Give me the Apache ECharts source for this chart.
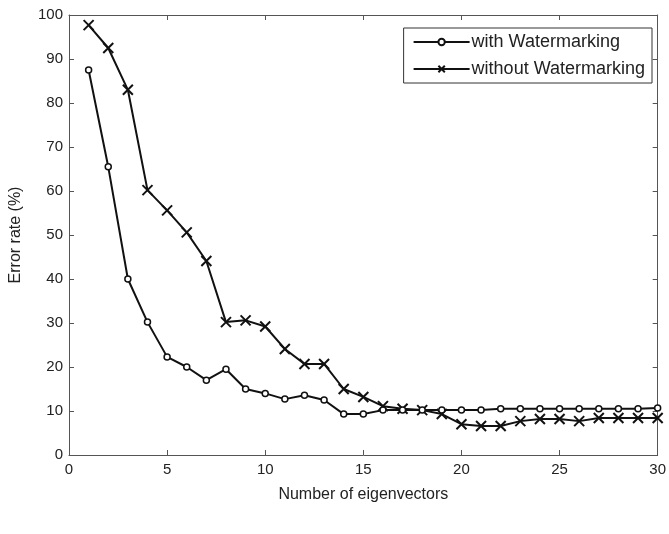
<!DOCTYPE html>
<html>
<head>
<meta charset="utf-8">
<script src="https://cdn.jsdelivr.net/npm/echarts@6/dist/echarts.min.js"></script>
<style>
  html, body { margin: 0; padding: 0; background: #fff; }
  #chart { width: 669px; height: 534px; }
</style>
</head>
<body>
<div id="chart"></div>
<script>
// Number of eigenvectors used
const eigenvectors = [1,2,3,4,5,6,7,8,9,10,11,12,13,14,15,16,17,18,19,20,21,22,23,24,25,26,27,28,29,30];

// Error rate (%) with watermarking
const withWatermarking = [87.5, 65.5, 40, 30.2, 22.3, 20, 17, 19.5, 15, 14, 12.7, 13.6, 12.5, 9.3, 9.3,
  10.2, 10.2, 10.2, 10.2, 10.2, 10.2, 10.5, 10.5, 10.5, 10.5, 10.5, 10.5, 10.5, 10.5, 10.7];

// Error rate (%) without watermarking
const withoutWatermarking = [97.7, 92.5, 83, 60.2, 55.6, 50.6, 44.1, 30.2, 30.6, 29.2, 24.1, 20.7, 20.7, 15, 13.2,
  11.1, 10.5, 10.2, 9.3, 7, 6.6, 6.6, 7.7, 8.2, 8.2, 7.7, 8.4, 8.4, 8.4, 8.4];

const seriesNames = ['with Watermarking', 'without Watermarking'];

const font = 'Liberation Sans, Arial, sans-serif';
const axisColor = '#555';
const textColor = '#222';

const pairs = (ys) => eigenvectors.map((x, i) => [x, ys[i]]);

const crossSymbol = 'path://M0,0L10,10M10,0L0,10';

const chart = echarts.init(document.getElementById('chart'), null, { renderer: 'canvas' });

const baseAxis = {
  axisLine: { show: true, onZero: false, lineStyle: { color: axisColor, width: 1 } },
  axisTick: { show: true, inside: true, length: 5, lineStyle: { color: axisColor } },
  splitLine: { show: false },
  axisLabel: { color: textColor, fontFamily: font, fontSize: 15 }
};

chart.setOption({
  animation: false,
  backgroundColor: '#fff',
  grid: { left: 69, right: 7, top: 15, bottom: 79, containLabel: false },
  legend: {
    data: seriesNames,
    orient: 'vertical',
    right: 17,
    top: 28,
    padding: [5, 7, 5, 9],
    itemGap: 9,
    itemWidth: 56,
    itemHeight: 8,
    borderColor: '#333',
    borderWidth: 1,
    backgroundColor: '#fff',
    textStyle: { color: textColor, fontFamily: font, fontSize: 18, padding: [0, 0, 0, -3] }
  },
  xAxis: [
    Object.assign({}, baseAxis, {
      type: 'value', min: 0, max: 30, interval: 5, position: 'bottom',
      name: 'Number of eigenvectors', nameLocation: 'middle', nameGap: 32,
      nameTextStyle: { color: textColor, fontFamily: font, fontSize: 16 },
      axisLabel: Object.assign({}, baseAxis.axisLabel, { margin: 7 })
    }),
    Object.assign({}, baseAxis, {
      type: 'value', min: 0, max: 30, interval: 5, position: 'top',
      axisLabel: { show: false }
    })
  ],
  yAxis: [
    Object.assign({}, baseAxis, {
      type: 'value', min: 0, max: 100, interval: 10, position: 'left',
      name: 'Error rate (%)', nameLocation: 'middle', nameGap: 45, nameRotate: 90,
      nameTextStyle: { color: textColor, fontFamily: font, fontSize: 16 },
      axisLabel: Object.assign({}, baseAxis.axisLabel, { margin: 6 })
    }),
    Object.assign({}, baseAxis, {
      type: 'value', min: 0, max: 100, interval: 10, position: 'right',
      axisLabel: { show: false }
    })
  ],
  series: [
    {
      name: seriesNames[0],
      type: 'line',
      data: pairs(withWatermarking),
      symbol: 'circle',
      symbolSize: 6,
      showAllSymbol: true,
      lineStyle: { color: '#111', width: 2 },
      itemStyle: { color: '#fff', borderColor: '#111', borderWidth: 1.5 },
      z: 3
    },
    {
      name: seriesNames[1],
      type: 'line',
      data: pairs(withoutWatermarking),
      symbol: crossSymbol,
      symbolSize: 10,
      showAllSymbol: true,
      lineStyle: { color: '#111', width: 2 },
      itemStyle: { color: '#111', borderColor: '#111', borderWidth: 2 },
      z: 2
    }
  ]
});
</script>
</body>
</html>
